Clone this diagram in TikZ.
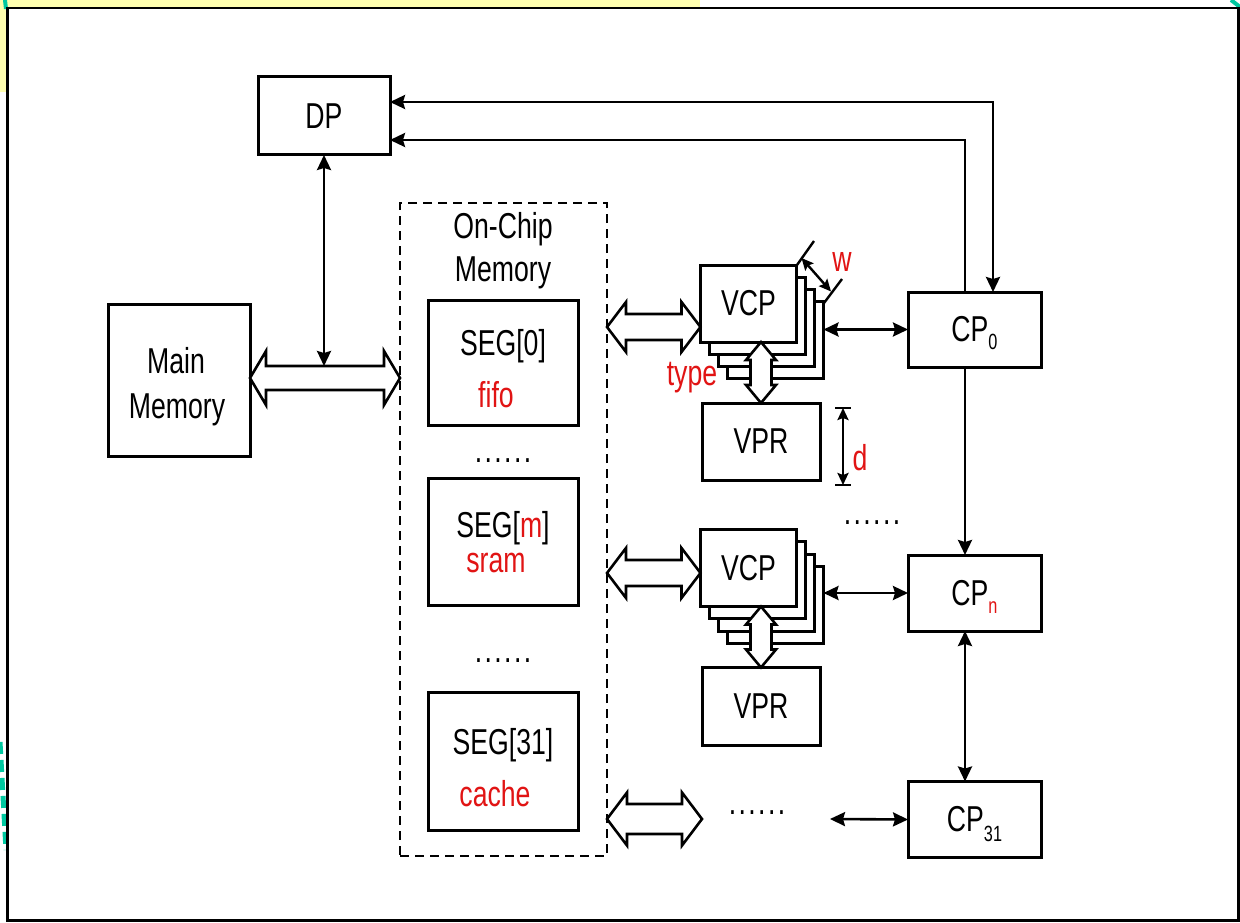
\documentclass[tikz,border=0pt]{standalone}
\usepackage{fontspec}
\setmainfont{Liberation Sans}[FakeStretch=0.74]
\usetikzlibrary{arrows.meta,calc}

\definecolor{segred}{RGB}{225,20,20}
\definecolor{slideyellow}{RGB}{255,255,175}
\definecolor{slideteal}{RGB}{0,200,160}

% lowered subscript for the CP labels (depth hidden so the label stays centred)
\newcommand{\cpsub}[2][8pt]{\smash{\raisebox{-#1}{\fontsize{22}{22}\selectfont #2}}}
% a row of six widely spaced dots
\newcommand{\dotrow}{.\kern2.4pt.\kern2.4pt.\kern2.4pt.\kern2.4pt.\kern2.4pt.}

% hollow double arrow, horizontal: left tip, right tip, head half-width, shaft half-width, head length
\newcommand{\hollowH}[5]{%
  \draw[hollow] let \p1=#1, \p2=#2 in
    (\x1,\y1) -- (\x1+#5,\y1+#3) -- (\x1+#5,\y1+#4) -- (\x2-#5,\y1+#4) -- (\x2-#5,\y1+#3)
    -- (\x2,\y1) -- (\x2-#5,\y1-#3) -- (\x2-#5,\y1-#4) -- (\x1+#5,\y1-#4) -- (\x1+#5,\y1-#3) -- cycle;}
% hollow double arrow, vertical: top tip, bottom tip, head half-width, shaft half-width, head length
\newcommand{\hollowV}[5]{%
  \draw[hollow] let \p1=#1, \p2=#2 in
    (\x1,\y1) -- (\x1+#3,\y1-#5) -- (\x1+#4,\y1-#5) -- (\x1+#4,\y2+#5) -- (\x1+#3,\y2+#5)
    -- (\x1,\y2) -- (\x1-#3,\y2+#5) -- (\x1-#4,\y2+#5) -- (\x1-#4,\y1-#5) -- (\x1-#3,\y1-#5) -- cycle;}

\begin{document}
\begin{tikzpicture}[x=1pt,y=-1pt,
  font=\fontsize{36}{44}\selectfont,
  box/.style={draw, line width=3pt, fill=white, inner sep=0pt, outer sep=0pt},
  onchipbox/.style={draw, dash pattern=on 9pt off 6pt, line width=2.3pt, inner sep=0pt, outer sep=0pt},
  conn/.style={line width=2.6pt},
  oneway/.style={conn, -{Stealth[length=15pt,width=14pt,inset=2pt]}},
  twoway/.style={conn, {Stealth[length=15pt,width=14pt,inset=2pt]}-{Stealth[length=15pt,width=14pt,inset=2pt]}},
  dimarrow/.style={line width=2.4pt, {Stealth[length=12pt,width=11pt,inset=2pt]}-{Stealth[length=12pt,width=11pt,inset=2pt]}},
  hollow/.style={draw, fill=white, line width=2.6pt, line join=miter},
  lbl/.style={anchor=base, inner sep=0pt},
  redlbl/.style={lbl, text=segred},
  dots/.style={inner sep=0pt}
]
\useasboundingbox (0,0) rectangle (1240,923);

% slide background remnants and frame
\fill[slideyellow] (0,0) rectangle (700,7);
\fill[slideyellow] (0,0) rectangle (6.5,92);
\draw[slideteal, line width=4pt] (5,0) -- (6,9);
\draw[slideteal, line width=4pt] (1231,0) -- (1240,7);
\draw[slideteal, line width=5pt, dash pattern=on 12pt off 6pt] (0,742) -- (6,850);
\draw[line width=2.6pt] (7.5,8) rectangle (1238.5,920.5);

% memories and dispatch processor
\node[box, minimum width=132, minimum height=78] (dp) at (324,116) {\raisebox{-3pt}{DP}};
\node[box, minimum width=142, minimum height=152] (mm) at (179,380) {};
\node[lbl] (mml1) at (176,373) {Main};
\node[lbl] (mml2) at (177,418) {Memory};

\node[onchipbox, minimum width=207, minimum height=653] (onchip) at (503.5,529.5) {};
\node[lbl] (ocl1) at (503,238) {On-Chip};
\node[lbl] (ocl2) at (503,281) {Memory};

\node[box, minimum width=150, minimum height=125] (seg0) at (503,362.5) {};
\node[lbl] (seg0t) at (503,355) {SEG[0]};
\node[redlbl] (seg0k) at (496,407) {fifo};
\node[dots] (dots1) at (503,461) {\dotrow};

\node[box, minimum width=150, minimum height=127] (segm) at (503,541.5) {};
\node[lbl] (segmt) at (503,537) {SEG[{\color{segred}m}]};
\node[redlbl] (segmk) at (496,572) {sram};
\node[dots] (dots2) at (503,661) {\dotrow};

\node[box, minimum width=150, minimum height=138] (seg31) at (503,761) {};
\node[lbl] (seg31t) at (503,754) {SEG[31]};
\node[redlbl] (seg31k) at (495,806) {cache};

% channel processors
\node[box, minimum width=133, minimum height=75] (cp0) at (974.5,329.5) {CP\cpsub{0}};
\node[box, minimum width=133, minimum height=76] (cpn) at (974.5,593) {CP\cpsub{\color{segred}n}};
\node[box, minimum width=133, minimum height=76] (cp31) at (974.5,819.5) {CP\cpsub[10pt]{31}};
\node[dots] (dots3) at (872,523) {\dotrow};

% first VCP stack and its VPR
\node[box, minimum width=96, minimum height=77] (vcpA3) at (775.5,339.5) {};
\node[box, minimum width=96, minimum height=77] (vcpA2) at (766.5,327.5) {};
\node[box, minimum width=96, minimum height=77] (vcpA1) at (757.5,315.5) {};
\node[box, minimum width=96, minimum height=77] (vcpA0) at (748.5,303.5) {\raisebox{-3pt}{VCP}};
\node[box, minimum width=118, minimum height=77] (vpr1) at (761,441.5) {VPR};
\hollowV{(vpr1.north |- vcpA0.south)}{(vpr1.north)}{15pt}{10.5pt}{18pt}
\node[redlbl] (typel) at (692,385) {type};

% width of the stack
\coordinate (wa0) at (797,265);
\coordinate (wa1) at (814,241);
\coordinate (wb0) at (824,303);
\coordinate (wb1) at (842,279);
\draw[line width=2.4pt] (wa0) -- (wa1);
\draw[line width=2.4pt] (wb0) -- (wb1);
\coordinate (wp) at (801.5,258);
\coordinate (wq) at (831,291.5);
\draw[dimarrow] (wp) -- (wq);
\node[redlbl] (wl) at (842,271) {w};

% depth of the VPR
\coordinate (dtop) at (843,408);
\coordinate (dbot) at (843,485);
\draw[line width=2.4pt] ($(dtop)+(-8,0)$) -- ($(dtop)+(8,0)$);
\draw[line width=2.4pt] ($(dbot)+(-8,0)$) -- ($(dbot)+(8,0)$);
\draw[dimarrow] (dtop) -- (dbot);
\node[redlbl] (dl) at (860,470) {d};

% second VCP stack and its VPR
\node[box, minimum width=96, minimum height=77] (vcpB3) at (775.5,604.9) {};
\node[box, minimum width=96, minimum height=77] (vcpB2) at (766.5,592.6) {};
\node[box, minimum width=96, minimum height=77] (vcpB1) at (757.5,580.3) {};
\node[box, minimum width=96, minimum height=77] (vcpB0) at (748.5,568) {\raisebox{-3pt}{VCP}};
\node[box, minimum width=118, minimum height=78] (vpr2) at (761,706.5) {VPR};
\hollowV{(vpr2.north |- vcpB0.south)}{(vpr2.north)}{15pt}{10.5pt}{18pt}

% wide data paths
\hollowH{(mm.east |- 0,378)}{(onchip.west |- 0,378)}{27pt}{12pt}{16pt}
\hollowH{(onchip.east |- 0,327)}{(vcpA0.west |- 0,327)}{25pt}{13pt}{19pt}
\hollowH{(onchip.east |- 0,573)}{(vcpB0.west |- 0,573)}{25pt}{13pt}{19pt}
\coordinate (rowend) at (702,819);
\hollowH{(onchip.east |- 0,819)}{(rowend)}{26.5pt}{15pt}{20pt}
\node[dots] (dots4) at (757,813) {\dotrow};
\coordinate (dotend) at (830,819);

% control connections
\coordinate (busjoin) at (324,366);
\draw[twoway] (dp.south) -- (busjoin);
\draw[twoway] (cp0.north -| 993,0) |- (dp.east |- 0,102);
\draw[oneway] (cp0.north -| 965,0) |- (dp.east |- 0,140);
\draw[oneway] (cp0.south -| 965,0) -- (cpn.north -| 965,0);
\draw[twoway] (cpn.south -| 965,0) -- (cp31.north -| 965,0);
\draw[twoway] (vcpA3.east |- cp0.west) -- (cp0.west);
\draw[twoway] (vcpB3.east |- cpn.west) -- (cpn.west);
\draw[twoway] (dotend) -- (cp31.west);
\end{tikzpicture}
\end{document}
